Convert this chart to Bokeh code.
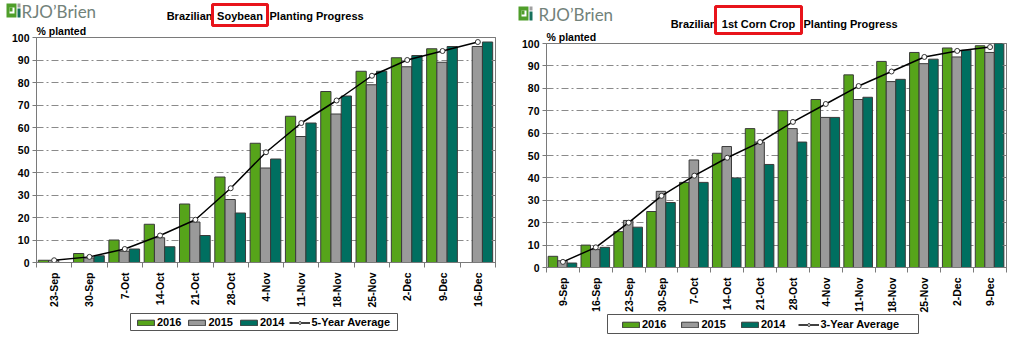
import math
import numpy as np
from bokeh.plotting import figure
from bokeh.layouts import row, column
from bokeh.models import (Range1d, FixedTicker, LinearAxis, Label, Legend, LegendItem,
                          BoxAnnotation)
from bokeh.embed import file_html
from bokeh.resources import INLINE

NAN = float("nan")

# ---- Soybean data ----
soy_weeks = ["23-Sep", "30-Sep", "7-Oct", "14-Oct", "21-Oct", "28-Oct", "4-Nov",
             "11-Nov", "18-Nov", "25-Nov", "2-Dec", "9-Dec", "16-Dec"]
soy_2016 = [1, 4, 10, 17, 26, 38, 53, 65, 76, 85, 91, 95, NAN]
soy_2015 = [1, 2, 5, 11, 18, 28, 42, 56, 66, 79, 87, 89, 96]
soy_2014 = [0, 3, 6, 7, 12, 22, 46, 62, 74, 85, 92, 96, 98]
soy_avg = [1, 2.5, 6, 12, 19, 33, 49, 62, 72, 83, 90, 94, 98]

# ---- 1st corn crop data ----
corn_weeks = ["9-Sep", "16-Sep", "23-Sep", "30-Sep", "7-Oct", "14-Oct", "21-Oct",
              "28-Oct", "4-Nov", "11-Nov", "18-Nov", "25-Nov", "2-Dec", "9-Dec"]
corn_2016 = [5, 10, 16, 25, 38, 51, 62, 70, 75, 86, 92, 96, 98, 99]
corn_2015 = [3, 8, 21, 34, 48, 54, 56, 62, 67, 75, 83, 91, 94, 96]
corn_2014 = [2, 9, 18, 29, 38, 40, 46, 56, 67, 76, 84, 93, 97, 100]
corn_avg = [2.5, 9, 20, 32, 41, 49, 56, 65, 73, 81, 87.5, 94, 96.7, 98.4]

y_ticks = list(range(0, 101, 10))
series_labels = ["2016", "2015", "2014"]

GREEN = "#56a41a"
GRAY = "#9a9a9a"
TEAL = "#006f60"
EDGE = "#3a3a3a"
AXIS = "#7a7a7a"
FONT = "Liberation Sans"
W, H = 512, 351


def make_chart(weeks, s16, s15, s14, avg, b_left, b_right, b_top, b_bottom):
    n = len(weeks)
    p = figure(width=W, height=H, output_backend="svg", toolbar_location=None,
               x_range=Range1d(-0.5, n - 0.5), y_range=Range1d(0, 100),
               min_border_left=b_left, min_border_right=b_right,
               min_border_top=b_top, min_border_bottom=b_bottom)
    p.outline_line_color = AXIS
    p.background_fill_color = "white"
    p.border_fill_color = "white"
    p.xgrid.visible = False
    p.ygrid.ticker = FixedTicker(ticks=y_ticks)
    p.ygrid.grid_line_color = "#8a8a8a"
    p.ygrid.grid_line_dash = "7 3 2 3"

    idx = np.arange(n)
    bw = 0.29
    p.vbar(x=idx - 0.305, top=s16, width=bw, fill_color=GREEN, line_color=EDGE, line_width=1)
    p.vbar(x=idx - 0.015, top=s15, width=bw, fill_color=GRAY, line_color=EDGE, line_width=1)
    p.vbar(x=idx + 0.275, top=s14, width=bw, fill_color=TEAL, line_color=EDGE, line_width=1)
    p.line(x=idx, y=avg, line_color="black", line_width=1.5)
    p.scatter(x=idx, y=avg, size=5, marker="circle", fill_color="white",
              line_color="#333333", line_width=1)

    xa = p.xaxis[0]
    xa.ticker = FixedTicker(ticks=list(range(n)), minor_ticks=[i - 0.5 for i in range(n + 1)])
    xa.major_label_overrides = {i: w for i, w in enumerate(weeks)}
    xa.major_tick_line_color = None
    xa.minor_tick_in = 0
    xa.minor_tick_out = 5
    xa.minor_tick_line_color = AXIS
    xa.axis_line_color = AXIS
    xa.major_label_orientation = math.pi / 2
    xa.major_label_standoff = 4
    xa.major_label_text_font = FONT
    xa.major_label_text_font_style = "bold"
    xa.major_label_text_font_size = "10.5px"
    xa.major_label_text_color = "black"

    ya = p.yaxis[0]
    ya.ticker = FixedTicker(ticks=y_ticks)
    ya.major_tick_in = 0
    ya.major_tick_out = 4
    ya.minor_tick_line_color = None
    ya.major_tick_line_color = AXIS
    ya.axis_line_color = AXIS
    ya.major_label_standoff = 3
    ya.major_label_text_font = FONT
    ya.major_label_text_font_style = "bold"
    ya.major_label_text_font_size = "10.5px"
    ya.major_label_text_color = "black"

    ra = LinearAxis(ticker=FixedTicker(ticks=y_ticks))
    ra.major_label_overrides = {t: "" for t in y_ticks}
    ra.major_label_standoff = 0
    ra.major_tick_in = 4
    ra.major_tick_out = 0
    ra.minor_tick_line_color = None
    ra.major_tick_line_color = AXIS
    ra.axis_line_color = AXIS
    p.add_layout(ra, "right")
    return p


def make_overlay(crop, avg_label, title_right, title_cy, box, planted_xy, logo,
                 legend_box, legend_xy, legend_spacing):
    o = figure(width=W, height=H, output_backend="svg", toolbar_location=None,
               x_range=Range1d(0, W), y_range=Range1d(H, 0),
               x_axis_location=None, y_axis_location=None, min_border=0)
    o.grid.visible = False
    o.outline_line_color = None
    o.background_fill_alpha = 0
    o.border_fill_alpha = 0

    def lab(x, y, text, align="left", size="11px", font=FONT, style="bold", color="black"):
        o.add_layout(Label(x=x, y=y, text=text, text_align=align, text_baseline="middle",
                           text_font=font, text_font_style=style, text_font_size=size,
                           text_color=color))

    def rect(l, r, t, b, fill=None, line=None, lw=1):
        o.add_layout(BoxAnnotation(left=l, right=r, top=t, bottom=b,
                                   fill_color=fill if fill else "white",
                                   fill_alpha=1 if fill else 0,
                                   line_color=line, line_width=lw, line_alpha=1 if line else 0))

    # title with highlighted crop name
    bl, br, bt, bb = box
    lab(title_right, title_cy, "Brazilian", align="right")
    lab((bl + br) / 2, title_cy, crop, align="center")
    lab(br + 2, title_cy, "Planting Progress")
    rect(bl, br, bt, bb, line="#e8141b", lw=3)
    lab(planted_xy[0], planted_xy[1], "% planted", size="10.5px")

    # logo
    lx, ly, lh, tx = logo
    rect(lx, lx + 10, ly, ly + lh, fill="#4f9e2a")
    rect(lx + 3, lx + 8, ly + 4, ly + lh - 4, fill="white")
    rect(lx + 3, lx + 6, ly + 4, ly + lh - 6, fill="#4f9e2a")
    rect(lx + 11, lx + 14, ly, ly + 4, fill="#a0a0a0")
    rect(lx + 11, lx + 14, ly + 5, ly + lh, fill="#17705c")
    lab(tx, ly + lh / 2 + 0.5, "RJO\u2019Brien", font="Lato", style="normal", size="17px",
        color="#72827a")

    # legend frame
    gl, gr, gt, gb = legend_box
    rect(gl, gr, gt, gb, fill="white", line="#555555", lw=1)

    # legend swatches: style-only renderers holding a single missing value
    r16 = o.vbar(x=[NAN], top=[NAN], width=1, fill_color=GREEN, line_color=EDGE)
    r15 = o.vbar(x=[NAN], top=[NAN], width=1, fill_color=GRAY, line_color=EDGE)
    r14 = o.vbar(x=[NAN], top=[NAN], width=1, fill_color=TEAL, line_color=EDGE)
    ln = o.line(x=[NAN], y=[NAN], line_color="black", line_width=1.5)
    mk = o.scatter(x=[NAN], y=[NAN], size=5, marker="circle", fill_color="white",
                   line_color="#333333")
    legend = Legend(items=[LegendItem(label=series_labels[0], renderers=[r16]),
                           LegendItem(label=series_labels[1], renderers=[r15]),
                           LegendItem(label=series_labels[2], renderers=[r14]),
                           LegendItem(label=avg_label, renderers=[ln, mk])],
                    orientation="horizontal", location=legend_xy,
                    glyph_width=21, glyph_height=7, label_standoff=1, spacing=legend_spacing,
                    padding=0, margin=0, border_line_color=None,
                    background_fill_alpha=0,
                    label_text_font=FONT, label_text_font_style="bold",
                    label_text_font_size="11px", label_height=12, label_text_color="black")
    o.add_layout(legend, "center")
    return o


c1 = make_chart(soy_weeks, soy_2016, soy_2015, soy_2014, soy_avg, 36, 17, 37, 89)
o1 = make_overlay("Soybean", "5-Year Average", title_right=212, title_cy=15,
                  box=(212, 267, 4, 25), planted_xy=(36, 30), logo=(6, 3, 14, 21),
                  legend_box=(130, 397, 313, 330), legend_xy=(135, H - 328),
                  legend_spacing=5)
c2 = make_chart(corn_weeks, corn_2016, corn_2015, corn_2014, corn_avg, 34, 18, 43, 84)
o2 = make_overlay("1st Corn Crop", "3-Year Average", title_right=204, title_cy=23,
                  box=(203, 289, 6, 33), planted_xy=(34, 36), logo=(6, 6, 14, 26),
                  legend_box=(95, 406, 314, 333), legend_xy=(108, H - 330),
                  legend_spacing=13)

left = column(column(c1), column(o1, margin=(-H, 0, 0, 0)))
right = column(column(c2), column(o2, margin=(-H, 0, 0, 0)))
layout = row(left, right, spacing=0)
open("out.html", "w").write(file_html(layout, INLINE))
